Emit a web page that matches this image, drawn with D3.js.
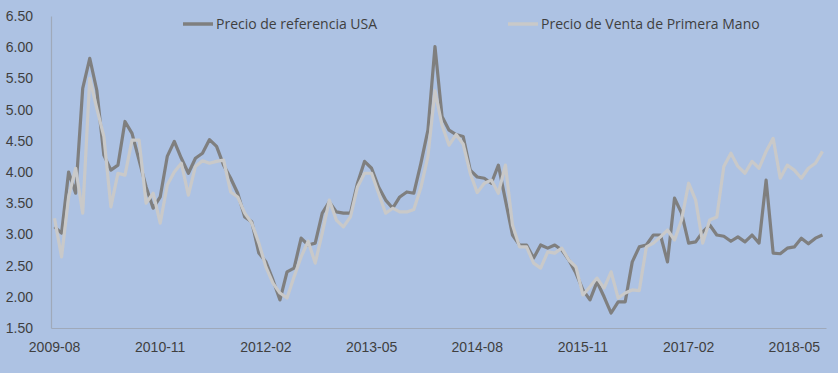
<!DOCTYPE html>
<html>
<head>
<meta charset="utf-8">
<script src="https://cdn.jsdelivr.net/npm/d3@7"></script>
<style>
	html, body { margin: 0; padding: 0; background: #adc2e3; }
	#chart { width: 838px; height: 373px; }
</style>
</head>
<body>
<div id="chart"></div>
<script>
// monthly prices, 2009-08 .. 2018-09
const startMonth = "2009-08";
const seriesNames = ["Precio de referencia USA", "Precio de Venta de Primera Mano"];

const usaValues = [
	3.12, 3.02, 4.00, 3.66, 5.34, 5.82, 5.31, 4.27, 4.03, 4.11,
	4.81, 4.62, 4.19, 3.76, 3.42, 3.60, 4.25, 4.49, 4.22, 3.98,
	4.22, 4.30, 4.52, 4.41, 4.11, 3.90, 3.66, 3.28, 3.20, 2.70,
	2.56, 2.27, 1.95, 2.40, 2.46, 2.94, 2.83, 2.86, 3.34, 3.52,
	3.36, 3.34, 3.34, 3.82, 4.17, 4.06, 3.76, 3.55, 3.42, 3.60,
	3.68, 3.66, 4.14, 4.67, 6.01, 4.89, 4.67, 4.60, 4.57, 4.03,
	3.92, 3.90, 3.82, 4.11, 3.55, 2.99, 2.83, 2.83, 2.62, 2.83,
	2.78, 2.83, 2.75, 2.59, 2.38, 2.11, 1.95, 2.24, 2.00, 1.74,
	1.92, 1.92, 2.56, 2.80, 2.83, 2.99, 2.99, 2.56, 3.58, 3.34,
	2.86, 2.88, 3.04, 3.15, 2.99, 2.97, 2.89, 2.96, 2.88, 2.99,
	2.86, 3.87, 2.70, 2.69, 2.78, 2.80, 2.94, 2.85, 2.94, 2.99
];

const primeraValues = [
	3.26, 2.64, 3.60, 4.06, 3.34, 5.50, 5.02, 4.57, 3.44, 3.98,
	3.95, 4.51, 4.51, 3.50, 3.66, 3.18, 3.79, 4.00, 4.14, 3.63,
	4.09, 4.18, 4.14, 4.17, 4.19, 3.68, 3.60, 3.34, 3.18, 2.86,
	2.48, 2.22, 2.06, 1.98, 2.32, 2.64, 2.89, 2.54, 3.02, 3.55,
	3.23, 3.12, 3.28, 3.76, 3.98, 3.98, 3.66, 3.34, 3.42, 3.36,
	3.36, 3.40, 3.75, 4.25, 5.30, 4.75, 4.43, 4.60, 4.45, 3.98,
	3.67, 3.82, 3.87, 3.66, 4.11, 3.15, 2.80, 2.80, 2.54, 2.46,
	2.72, 2.70, 2.78, 2.59, 2.48, 2.03, 2.16, 2.30, 2.14, 2.40,
	1.98, 2.06, 2.11, 2.10, 2.80, 2.86, 2.96, 3.07, 2.91, 3.23,
	3.82, 3.55, 2.86, 3.23, 3.28, 4.09, 4.30, 4.09, 3.98, 4.17,
	4.06, 4.33, 4.54, 3.90, 4.11, 4.03, 3.90, 4.06, 4.14, 4.33
];

const xTickLabels = ["2009-08", "2010-11", "2012-02", "2013-05", "2014-08", "2015-11", "2017-02", "2018-05"];
const yTickValues = [1.5, 2, 2.5, 3, 3.5, 4, 4.5, 5, 5.5, 6, 6.5];

const width = 838;
const height = 373;
const margin = { top: 16, right: 12, bottom: 45, left: 51 };
const colors = ["#7f7f7f", "#c9c9c9"];

const fmtMonth = d3.timeFormat("%Y-%m");
const parseMonth = d3.timeParse("%Y-%m");
const start = parseMonth(startMonth);
const months = d3.timeMonth.range(start, d3.timeMonth.offset(start, usaValues.length)).map(fmtMonth);

const svg = d3.select("#chart").append("svg")
	.attr("width", width)
	.attr("height", height)
	.style("font-family", "'Open Sans', sans-serif");

svg.append("rect")
	.attr("width", width)
	.attr("height", height)
	.attr("fill", "#adc2e3");

const x = d3.scaleBand()
	.domain(months)
	.range([margin.left, width - margin.right])
	.padding(0);

const y = d3.scaleLinear()
	.domain([1.5, 6.5])
	.range([height - margin.bottom, margin.top]);

const xc = d => x(d) + x.bandwidth() / 2;

// y axis
const yAxis = svg.append("g")
	.attr("transform", `translate(${margin.left},0)`)
	.call(d3.axisLeft(y).tickValues(yTickValues).tickFormat(d3.format(".2f")).tickSize(0).tickPadding(18));
yAxis.select(".domain").attr("stroke", "#9fa9ba").attr("stroke-width", 1.2);
yAxis.selectAll("text").attr("fill", "#3f3f3f").style("font-size", "14px");

// x axis
const xAxis = svg.append("g")
	.attr("transform", `translate(0,${height - margin.bottom})`)
	.call(d3.axisBottom(x).tickValues(xTickLabels).tickSize(0).tickPadding(14));
xAxis.select(".domain").attr("stroke", "#9fa9ba").attr("stroke-width", 1.2);
xAxis.selectAll("text").attr("fill", "#3f3f3f").style("font-size", "14px");

const line = d3.line()
	.x((d, i) => xc(months[i]))
	.y(d => y(d));

[usaValues, primeraValues].forEach((vals, k) => {
	svg.append("path")
		.datum(vals)
		.attr("fill", "none")
		.attr("stroke", colors[k])
		.attr("stroke-width", 3.2)
		.attr("stroke-linejoin", "round")
		.attr("d", line);
});

// legend
const legendX = [183, 508];
seriesNames.forEach((name, k) => {
	const g = svg.append("g").attr("transform", `translate(${legendX[k]},24)`);
	g.append("line")
		.attr("x1", 0).attr("x2", 30)
		.attr("stroke", colors[k])
		.attr("stroke-width", 3.5);
	g.append("text")
		.attr("x", 33)
		.attr("dy", "0.35em")
		.attr("fill", "#3f3f3f")
		.style("font-size", "14px")
		.text(name);
});
</script>
</body>
</html>
